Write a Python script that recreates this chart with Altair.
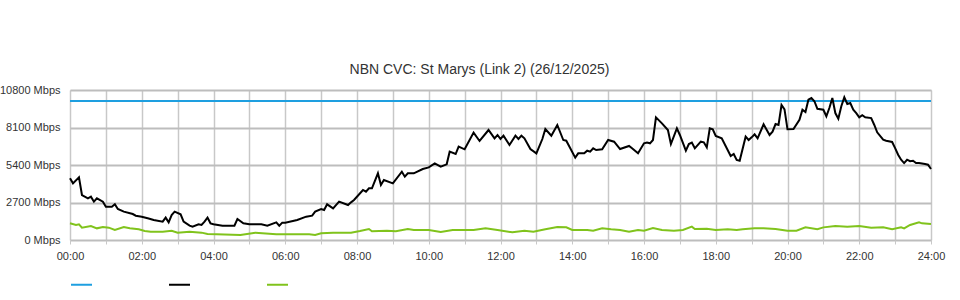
import altair as alt
import pandas as pd

TITLE = "NBN CVC: St Marys (Link 2) (26/12/2025)"

# minutes since midnight / Mbps
capacity_min = [0, 1440]
capacity_mbps = [10000, 10000]

inbound_min = [0, 5, 15, 20, 30, 35, 40, 45, 55, 60, 70, 75, 80, 90, 105, 110, 120, 130, 140, 155,
               160, 165, 170, 175, 185, 190, 200, 205, 215, 220, 225, 230, 235, 240, 255, 275, 280, 290,
               300, 320, 330, 345, 350, 355, 360, 380, 395, 405, 410, 420, 425, 430, 440, 450, 465, 470,
               475, 490, 495, 500, 505, 515, 520, 525, 540, 555, 560, 565, 575, 590, 600, 610, 620, 630,
               635, 645, 650, 660, 675, 685, 700, 710, 715, 720, 725, 735, 745, 750, 755, 760, 770, 780,
               790, 795, 805, 815, 825, 830, 845, 850, 860, 865, 870, 875, 880, 890, 900, 910, 920, 935,
               940, 950, 960, 965, 970, 975, 980, 990, 1000, 1005, 1015, 1020, 1030, 1035, 1040, 1045,
               1055, 1060, 1065, 1070, 1075, 1080, 1090, 1105, 1110, 1115, 1120, 1130, 1135, 1140, 1145,
               1150, 1160, 1170, 1175, 1180, 1185, 1190, 1195, 1200, 1210, 1220, 1225, 1230, 1235, 1240,
               1245, 1250, 1260, 1265, 1270, 1275, 1280, 1285, 1290, 1295, 1300, 1305, 1310, 1315, 1320,
               1325, 1330, 1340, 1345, 1350, 1360, 1365, 1375, 1380, 1385, 1390, 1395, 1400, 1405, 1410,
               1415, 1420, 1430, 1435, 1440]
inbound_mbps = [4440, 4080, 4510, 3240, 3000, 3120, 2760, 3000, 2760, 2400, 2400, 2570, 2230, 2040, 1870,
                1750, 1680, 1560, 1440, 1320, 1610, 1270, 1800, 2040, 1850, 1320, 1030, 960, 1130, 1080,
                1320, 1610, 1200, 1130, 1030, 1030, 1510, 1200, 1130, 1130, 1030, 1270, 1030, 1250, 1250,
                1440, 1680, 1750, 2040, 2230, 2160, 2570, 2280, 2760, 2520, 2710, 2880, 3600, 3480, 3720,
                3720, 4800, 3960, 4320, 4080, 4920, 4560, 4800, 4800, 5110, 5230, 5520, 5280, 5450, 6360,
                6190, 6720, 6530, 7730, 7130, 7920, 7320, 7560, 7270, 7510, 6840, 7510, 7270, 7510, 7320,
                6550, 6240, 7270, 7990, 7510, 8280, 7200, 7150, 5930, 6240, 6240, 6430, 6360, 6600, 6480,
                6530, 7200, 7080, 6550, 6770, 6600, 6240, 6960, 7010, 6960, 7200, 8830, 8400, 7920, 6910,
                8040, 7560, 6430, 6910, 7010, 6600, 7080, 7030, 6670, 8040, 7970, 7490, 7320, 6050, 6190,
                5760, 5710, 7440, 7200, 7390, 7610, 7320, 8330, 7560, 7800, 8350, 8280, 9720, 9410, 7970,
                7990, 8660, 9380, 9220, 10100, 10220, 9990, 9450, 9380, 8910, 9500, 10220, 9140, 8730,
                9630, 10270, 9790, 9860, 9380, 9140, 8830, 8980, 8830, 8780, 8300, 7750, 7220, 7150, 7060,
                6620, 6140, 5780, 5540, 5780, 5670, 5710, 5540, 5540, 5470, 5420, 5110]

outbound_min = [0, 10, 15, 20, 35, 45, 55, 65, 75, 90, 100, 115, 125, 135, 155, 170, 180, 200, 220, 230,
                245, 285, 310, 345, 400, 410, 420, 440, 470, 485, 500, 505, 530, 545, 565, 575, 600, 620,
                640, 675, 695, 715, 740, 760, 775, 795, 815, 830, 840, 865, 875, 890, 905, 920, 935, 950,
                960, 975, 990, 1010, 1025, 1040, 1045, 1065, 1080, 1100, 1115, 1125, 1145, 1160, 1180,
                1200, 1215, 1230, 1250, 1260, 1280, 1300, 1320, 1340, 1360, 1375, 1390, 1395, 1405, 1420,
                1425, 1440]
outbound_mbps = [1200, 1080, 1130, 890, 1010, 840, 940, 890, 720, 940, 840, 770, 650, 600, 600, 670, 530,
                 600, 530, 430, 410, 360, 530, 410, 410, 360, 480, 530, 530, 650, 790, 630, 670, 630, 790,
                 720, 720, 580, 720, 720, 840, 720, 550, 670, 600, 770, 940, 910, 720, 720, 670, 840, 770,
                 720, 600, 720, 670, 860, 720, 670, 720, 960, 790, 810, 720, 770, 720, 770, 840, 840, 790,
                 670, 670, 910, 770, 910, 1010, 960, 1010, 890, 910, 770, 910, 840, 1080, 1270, 1200, 1150]

series_names = ["Capacity", "Inbound", "Outbound"]
series_colors = ["#1e9fe0", "#000000", "#80c31c"]

rows = []
for name, mins, vals in [(series_names[0], capacity_min, capacity_mbps),
                         (series_names[1], inbound_min, inbound_mbps),
                         (series_names[2], outbound_min, outbound_mbps)]:
    for m, v in zip(mins, vals):
        rows.append({"series": name, "minute": m, "mbps": v})
df = pd.DataFrame(rows)

FONT = "Liberation Sans"

chart = alt.Chart(df).mark_line(strokeWidth=2, interpolate="linear").encode(
    x=alt.X("minute:Q",
            scale=alt.Scale(domain=[0, 1440], nice=False, zero=False),
            axis=alt.Axis(values=list(range(0, 1441, 60)),
                          labelExpr="datum.value % 120 == 0 ? ((datum.value/60 < 10 ? '0' : '') + (datum.value/60) + ':00') : ''",
                          title=None, domain=False, tickSize=4, tickColor="#c8c8c8",
                          gridColor="#c8c8c8", gridWidth=1.5,
                          labelFontSize=11, labelColor="#333333", labelFont=FONT,
                          labelPadding=6, labelFlush=False)),
    y=alt.Y("mbps:Q",
            scale=alt.Scale(domain=[0, 10800], nice=False),
            axis=alt.Axis(values=[0, 2700, 5400, 8100, 10800],
                          labelExpr="datum.value + ' Mbps'",
                          title=None, domain=False, tickSize=0,
                          gridColor="#bdbdbd", gridWidth=2,
                          labelFontSize=11, labelColor="#333333", labelFont=FONT,
                          labelPadding=10)),
    color=alt.Color("series:N",
                    scale=alt.Scale(domain=series_names, range=series_colors),
                    legend=alt.Legend(orient="none", legendX=0, legendY=183,
                                      direction="horizontal", title=None,
                                      symbolType="stroke", symbolSize=441,
                                      symbolStrokeWidth=2, labelExpr="''",
                                      labelOffset=4, columnPadding=68)),
    order="minute:Q",
).properties(
    width=861,
    height=150,
    title=alt.TitleParams(TITLE, fontSize=14, font=FONT, fontWeight="normal",
                          color="#333333", anchor="middle", dx=-21, offset=7),
    autosize=alt.AutoSizeParams(type="none"),
    padding={"left": 70, "top": 90, "right": 29, "bottom": 60},
).configure_view(stroke=None).configure(background="white")

chart.save("out.html", embed_options={"renderer": "svg", "actions": False})
